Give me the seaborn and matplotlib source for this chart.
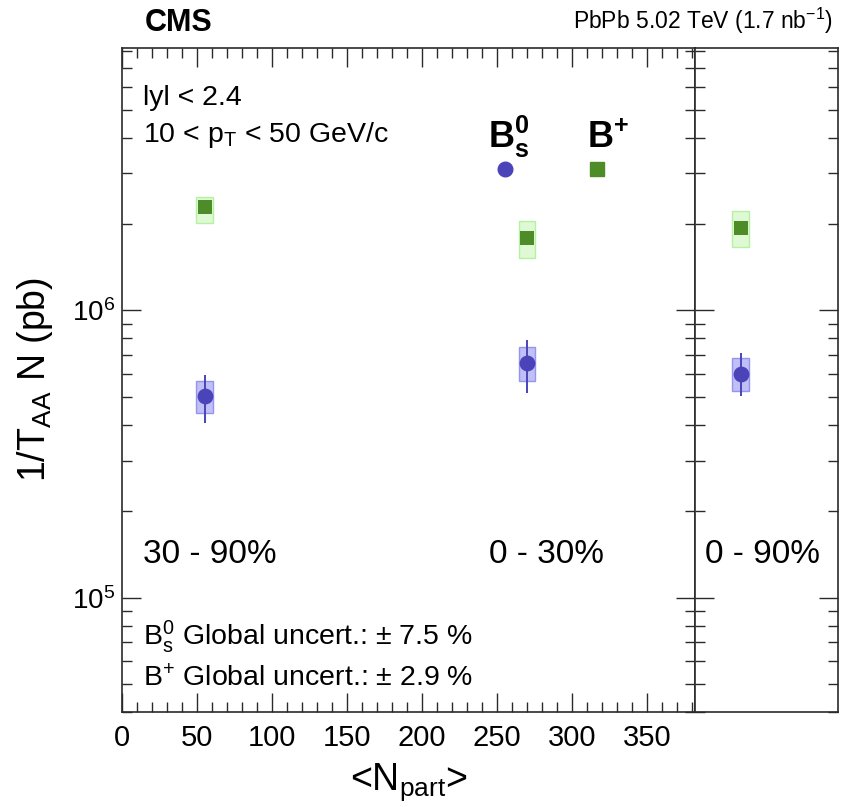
import numpy as np
import pandas as pd
import matplotlib
matplotlib.use("Agg")
import matplotlib.pyplot as plt
import seaborn as sns
from matplotlib.lines import Line2D
from matplotlib.ticker import MultipleLocator, LogLocator, NullFormatter, FixedLocator

# =========================
# DATA
# =========================
cent_bins = ["30 - 90%", "0 - 30%"]
npart = [55.0, 270.0]

bs_val = [5.02e5, 6.55e5]
bs_stat_lo = [4.06e5, 5.15e5]
bs_stat_hi = [5.95e5, 7.87e5]
bs_syst_lo = [4.39e5, 5.66e5]
bs_syst_hi = [5.66e5, 7.45e5]

bp_val = [2.30e6, 1.79e6]
bp_stat_lo = [2.19e6, 1.74e6]
bp_stat_hi = [2.41e6, 1.84e6]
bp_syst_lo = [2.02e6, 1.52e6]
bp_syst_hi = [2.49e6, 2.05e6]

# integrated 0-90 %
int_label = "0 - 90%"
int_x = [0.32]
bs_int_val = [6.0e5]
bs_int_stat_lo = [5.02e5]
bs_int_stat_hi = [7.1e5]
bs_int_syst_lo = [5.24e5]
bs_int_syst_hi = [6.81e5]

bp_int_val = [1.94e6]
bp_int_stat_lo = [1.89e6]
bp_int_stat_hi = [1.99e6]
bp_int_syst_lo = [1.67e6]
bp_int_syst_hi = [2.22e6]

xticks = [0, 50, 100, 150, 200, 250, 300, 350]

# =========================
# STYLE
# =========================
sns.set_style("ticks")
plt.rcParams["font.family"] = ["Liberation Sans", "DejaVu Sans"]
plt.rcParams["mathtext.fontset"] = "custom"
plt.rcParams["mathtext.rm"] = "Liberation Sans"
plt.rcParams["mathtext.it"] = "Liberation Sans:italic"
plt.rcParams["mathtext.bf"] = "Liberation Sans:bold"
plt.rcParams["text.color"] = "black"
plt.rcParams["axes.labelcolor"] = "black"
plt.rcParams["xtick.labelcolor"] = "black"
plt.rcParams["ytick.labelcolor"] = "black"

bs_col = "#4a44b8"
bs_fill = "#b9b9f7"
bs_edge = "#8c8cf0"
bp_col = "#4e8c2a"
bp_fill = "#dcf9d0"
bp_edge = "#aef09a"
frame_col = "#2a2a2a"

fig = plt.figure(figsize=(8.48, 8.07), dpi=100)
x0, x1, x2 = 122 / 848, 695 / 848, 838 / 848
y0, y1 = 1 - 712 / 807, 1 - 48 / 807
ax = fig.add_axes([x0, y0, x1 - x0, y1 - y0])
ax2 = fig.add_axes([x1, y0, x2 - x1, y1 - y0], sharey=ax)

ylo, yhi = 4.0e4, 8.2e6


def draw(a, x, val, st_lo, st_hi, sy_lo, sy_hi, width, col, fill, edge, marker, msize):
    x = np.asarray(x)
    val = np.asarray(val)
    a.bar(x, np.asarray(sy_hi) - np.asarray(sy_lo), bottom=sy_lo, width=width,
          color=fill, edgecolor=edge, linewidth=1.0, zorder=1, alpha=0.9)
    a.errorbar(x, val, yerr=[val - np.asarray(st_lo), np.asarray(st_hi) - val],
               fmt="none", ecolor=col, elinewidth=1.4, capsize=0, zorder=2)
    df = pd.DataFrame({"x": x, "y": val})
    sns.scatterplot(data=df, x="x", y="y", ax=a, marker=marker, s=msize,
                    color=col, edgecolor=col, linewidth=0, zorder=3, legend=False)


draw(ax, npart, bp_val, bp_stat_lo, bp_stat_hi, bp_syst_lo, bp_syst_hi,
     10.7, bp_col, bp_fill, bp_edge, "s", 105)
draw(ax, npart, bs_val, bs_stat_lo, bs_stat_hi, bs_syst_lo, bs_syst_hi,
     10.7, bs_col, bs_fill, bs_edge, "o", 130)
draw(ax2, int_x, bp_int_val, bp_int_stat_lo, bp_int_stat_hi, bp_int_syst_lo, bp_int_syst_hi,
     0.12, bp_col, bp_fill, bp_edge, "s", 105)
draw(ax2, int_x, bs_int_val, bs_int_stat_lo, bs_int_stat_hi, bs_int_syst_lo, bs_int_syst_hi,
     0.12, bs_col, bs_fill, bs_edge, "o", 130)

# =========================
# AXES
# =========================
ax.set_yscale("log")
ax.set_ylim(ylo, yhi)
ax.set_xlim(0, 382)
ax2.set_xlim(0, 1)

ax.xaxis.set_major_locator(FixedLocator(xticks))
ax.set_xticklabels([str(t) for t in xticks])
ax.xaxis.set_minor_locator(MultipleLocator(10))
ax.yaxis.set_major_locator(LogLocator(base=10))
ax.yaxis.set_minor_locator(LogLocator(base=10, subs=np.arange(2, 10)))
ax.yaxis.set_minor_formatter(NullFormatter())

for a in (ax, ax2):
    for s in a.spines.values():
        s.set_color(frame_col)
        s.set_linewidth(1.2)
    a.tick_params(which="both", direction="in", color=frame_col, width=1.0)
    a.tick_params(which="major", length=14)
    a.tick_params(which="minor", length=7)
    a.set_xlabel("")
    a.set_ylabel("")

ax.tick_params(which="both", top=True, right=True, bottom=True, left=True)
ax.tick_params(axis="x", labelsize=21, pad=9)
ax.tick_params(axis="y", labelsize=20, pad=5)

ax2.tick_params(axis="x", which="both", bottom=False, top=False, labelbottom=False)
ax2.tick_params(axis="y", which="both", left=True, right=True, labelleft=False)

ax.set_xlabel(r"<N$_{\rm part}$>", fontsize=27, labelpad=6)
ax.set_ylabel(r"1/T$_{\rm AA}$ N (pb)", fontsize=27)
ax.yaxis.set_label_coords(-0.117, 0.5)

# =========================
# TEXT
# =========================
fig.text(145 / 848, 1 - 31 / 807, "CMS", fontsize=22, fontweight="bold", va="baseline")
fig.text(833 / 848, 1 - 29 / 807, r"PbPb 5.02 TeV (1.7 nb$^{-1}$)", fontsize=16.5,
         ha="right", va="baseline")

ax.text(0.037, 0.914, "lyl < 2.4", fontsize=20.5, transform=ax.transAxes, va="baseline")
ax.text(0.037, 0.858, r"10 < p$_{\rm T}$ < 50 GeV/c", fontsize=20.5,
        transform=ax.transAxes, va="baseline")

ax.text(0.037, 0.224, cent_bins[0], fontsize=24, transform=ax.transAxes, va="baseline")
ax.text(0.64, 0.224, cent_bins[1], fontsize=24, transform=ax.transAxes, va="baseline")
ax2.text(0.07, 0.224, int_label, fontsize=24, transform=ax2.transAxes, va="baseline")

ax.text(0.037, 0.101, r"B$_{\rm s}^{\rm 0}$ Global uncert.: $\pm$ 7.5 %", fontsize=20.5,
        transform=ax.transAxes, va="baseline")
ax.text(0.037, 0.039, r"B$^{+}$ Global uncert.: $\pm$ 2.9 %", fontsize=20.5,
        transform=ax.transAxes, va="baseline")

# legend: markers only, labels written above
handles = [
    Line2D([], [], marker="o", color=bs_col, linestyle="none", markersize=10.5),
    Line2D([], [], marker="s", color=bp_col, linestyle="none", markersize=9.5),
]
leg = ax.legend(handles, ["", ""], ncol=2, loc="center", bbox_to_anchor=(0.749, 0.816),
                frameon=False, fontsize=10, handlelength=1.0, handletextpad=0.0,
                columnspacing=5.6, borderpad=0, borderaxespad=0)
ax.text(0.639, 0.849, r"$\mathbf{B}_{\mathbf{s}}^{\mathbf{0}}$", fontsize=26,
        transform=ax.transAxes, va="baseline")
ax.text(0.812, 0.849, r"$\mathbf{B}^{\mathbf{+}}$", fontsize=26,
        transform=ax.transAxes, va="baseline")

plt.savefig("out.png", dpi=100)
plt.close()
